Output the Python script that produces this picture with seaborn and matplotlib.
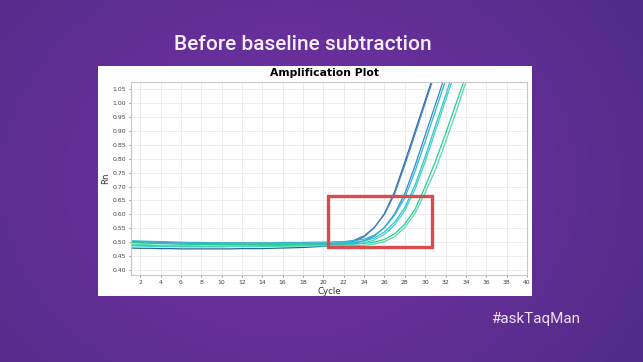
import numpy as np
import pandas as pd
import matplotlib.pyplot as plt
import seaborn as sns
from matplotlib.patches import Rectangle

# ========== Data (Rn per cycle, cycles 1-35) ==========
cycles = list(range(1, 36))

well_a = [0.479, 0.478, 0.478, 0.477, 0.477, 0.476, 0.476, 0.476, 0.476, 0.476,
          0.476, 0.477, 0.477, 0.477, 0.478, 0.479, 0.480, 0.481, 0.483, 0.485,
          0.488, 0.493, 0.503, 0.520, 0.552, 0.603, 0.682, 0.788, 0.898, 1.010,
          1.120, 1.230, 1.340, 1.450, 1.560]
well_b = [0.503, 0.502, 0.500, 0.499, 0.498, 0.497, 0.496, 0.495, 0.495, 0.494,
          0.494, 0.494, 0.494, 0.494, 0.494, 0.494, 0.495, 0.495, 0.495, 0.496,
          0.497, 0.500, 0.507, 0.523, 0.553, 0.600, 0.674, 0.778, 0.888, 1.000,
          1.110, 1.220, 1.330, 1.440, 1.550]
well_c = [0.490, 0.489, 0.488, 0.487, 0.486, 0.486, 0.485, 0.485, 0.485, 0.485,
          0.485, 0.486, 0.486, 0.487, 0.487, 0.488, 0.489, 0.490, 0.490, 0.491,
          0.492, 0.493, 0.497, 0.505, 0.522, 0.553, 0.602, 0.675, 0.775, 0.885,
          0.995, 1.105, 1.215, 1.325, 1.435]
well_d = [0.505, 0.504, 0.503, 0.502, 0.501, 0.500, 0.499, 0.499, 0.498, 0.498,
          0.498, 0.498, 0.498, 0.498, 0.498, 0.499, 0.499, 0.499, 0.500, 0.500,
          0.501, 0.502, 0.505, 0.511, 0.525, 0.552, 0.597, 0.660, 0.755, 0.862,
          0.972, 1.082, 1.190, 1.300, 1.410]
well_e = [0.500, 0.499, 0.497, 0.496, 0.495, 0.494, 0.494, 0.493, 0.493, 0.493,
          0.493, 0.493, 0.494, 0.494, 0.494, 0.495, 0.495, 0.496, 0.496, 0.497,
          0.497, 0.498, 0.500, 0.504, 0.515, 0.537, 0.572, 0.625, 0.705, 0.808,
          0.918, 1.028, 1.140, 1.250, 1.360]
well_f = [0.487, 0.486, 0.485, 0.484, 0.484, 0.483, 0.483, 0.483, 0.483, 0.483,
          0.484, 0.484, 0.484, 0.485, 0.485, 0.486, 0.486, 0.487, 0.488, 0.488,
          0.489, 0.490, 0.492, 0.497, 0.508, 0.528, 0.562, 0.614, 0.690, 0.790,
          0.900, 1.010, 1.120, 1.230, 1.340]
well_g = [0.498, 0.497, 0.496, 0.495, 0.494, 0.493, 0.492, 0.492, 0.492, 0.491,
          0.491, 0.491, 0.491, 0.491, 0.492, 0.492, 0.492, 0.493, 0.493, 0.493,
          0.494, 0.494, 0.495, 0.496, 0.500, 0.510, 0.530, 0.565, 0.618, 0.700,
          0.790, 0.890, 0.995, 1.100, 1.210]
well_h = [0.492, 0.491, 0.490, 0.489, 0.488, 0.487, 0.487, 0.486, 0.486, 0.486,
          0.486, 0.486, 0.486, 0.486, 0.486, 0.486, 0.487, 0.487, 0.487, 0.487,
          0.488, 0.488, 0.488, 0.489, 0.493, 0.502, 0.520, 0.553, 0.604, 0.678,
          0.760, 0.860, 0.965, 1.075, 1.185]

wells = {"A1": well_a, "A2": well_b, "B1": well_c, "B2": well_d,
         "C1": well_e, "C2": well_f, "D1": well_g, "D2": well_h}
well_colors = ["#23689f", "#4f86c4", "#2c8cc6", "#33b4d6",
               "#2cc4d2", "#3fd2c8", "#2ecb92", "#55dba8"]

x_ticks = list(range(2, 41, 2))
y_ticks = [0.40, 0.45, 0.50, 0.55, 0.60, 0.65, 0.70, 0.75, 0.80,
           0.85, 0.90, 0.95, 1.00, 1.05]

# region highlighted in red (cycle range, Rn range)
box_cycles = [20.5, 30.7]
box_rn = [0.483, 0.665]

df = pd.DataFrame([(name, c, v) for name, vals in wells.items()
                   for c, v in zip(cycles, vals)],
                  columns=["well", "cycle", "rn"])

# ========== Figure ==========
fig = plt.figure(figsize=(6.43, 3.62), dpi=100)

# purple background
bg = fig.add_axes([0, 0, 1, 1], zorder=-10)
gx, gy = np.meshgrid(np.linspace(-1, 1, 200), np.linspace(-1, 1, 120))
r = np.sqrt(((gx + 0.1) * 0.85) ** 2 + (gy * 0.6) ** 2)
c_in = np.array([0x70, 0x31, 0xa2]) / 255
c_out = np.array([0x52, 0x2b, 0x88]) / 255
t = np.clip(r / 1.05, 0, 1)[..., None] ** 1.5
bg.imshow(c_in * (1 - t) + c_out * t, aspect="auto", extent=[0, 1, 0, 1])
bg.set_axis_off()

# white panel
fig.patches.append(Rectangle((98 / 643, 1 - 296 / 362), 434 / 643, 230 / 362,
                             transform=fig.transFigure, facecolor="white",
                             edgecolor="none", zorder=-5))

fig.text(0.471, 0.878, "Before baseline subtraction", color="#f6eef9",
         fontsize=15, family="Roboto", fontweight="medium",
         ha="center", va="center")
fig.text(0.833, 0.118, "#askTaqMan", color="#ebdff2", fontsize=11,
         family="Roboto", ha="center", va="center")
fig.text(0.505, 0.798, "Amplification Plot", color="black", fontsize=7.8,
         fontweight="bold", family="DejaVu Sans", ha="center", va="center")

ax = fig.add_axes([131 / 643, 1 - 275 / 362, 396 / 643, 193 / 362])
sns.lineplot(data=df, x="cycle", y="rn", hue="well", palette=well_colors,
             linewidth=0.9, legend=False, ax=ax)

ax.set_xlim(1.1, 40)
ax.set_ylim(0.382, 1.076)
ax.set_xticks(x_ticks)
ax.set_yticks(y_ticks)
ax.set_yticklabels([f"{v:.2f}" for v in y_ticks])
ax.tick_params(labelsize=4.4, colors="#444444", length=1.5, width=0.4, pad=2)
ax.grid(True, color="#e6e6e6", linewidth=0.5)
ax.set_axisbelow(True)
for s in ax.spines.values():
    s.set_color("#c8c8c8")
    s.set_linewidth(0.8)
ax.set_xlabel("Cycle", fontsize=6.2, color="#333333", labelpad=1.5)
ax.set_ylabel("Rn", fontsize=6.2, color="#333333", labelpad=2)

ax.add_patch(Rectangle((box_cycles[0], box_rn[0]), box_cycles[1] - box_cycles[0],
                       box_rn[1] - box_rn[0], fill=False, edgecolor="#dc4b4b",
                       linewidth=2.4, zorder=5))

plt.savefig("out.png", dpi=100)
plt.close()
